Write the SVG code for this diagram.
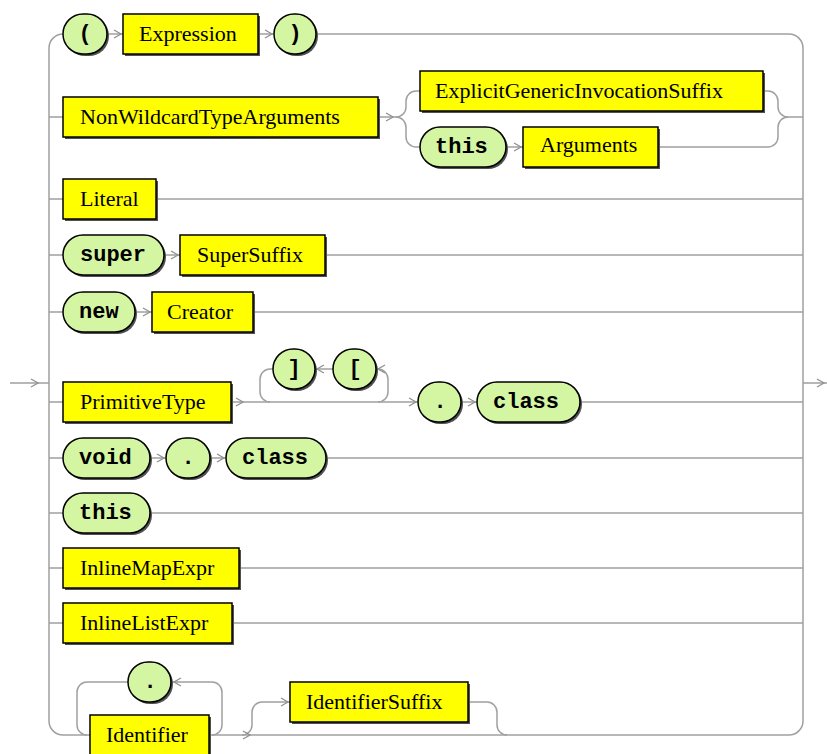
<svg xmlns="http://www.w3.org/2000/svg" xmlns:xlink="http://www.w3.org/1999/xlink" width="827" height="754" viewBox="0 0 827 754">
<style>
.c{fill:none;stroke:#a0a0a0;stroke-width:1.5}
.ar{fill:none;stroke:#909090;stroke-width:1.3}
.sh{fill:#505050}
.nt rect.b{fill:#ffff00;stroke:#000;stroke-width:1.5}
.t rect.b{fill:#d4f5a2;stroke:#000;stroke-width:1.5}
.nt text{font-family:"Liberation Serif",serif;font-size:22px;fill:#000}
.t text{font-family:"Liberation Mono",monospace;font-weight:bold;font-size:22px;fill:#000}
</style>
<defs>
<path id="a" class="ar" d="M-7,-4 L0,0 L-7,4"/>
<path id="al" class="ar" d="M7,-4 L0,0 L7,4"/>
</defs>
<rect width="827" height="754" fill="#fff"/>
<g id="connectors">
<path class="c" d="M10 383 H49 M803 383 H827"/>
<path class="c" d="M63 34 A14 14 0 0 0 49 48 V721 A14 14 0 0 0 63 735"/>
<path class="c" d="M789 34 A14 14 0 0 1 803 48 V721 A14 14 0 0 1 789 735"/>
<path class="c" d="M63 34 H789"/>
<path class="c" d="M49 117 H396 M788 117 H803"/>
<path class="c" d="M396 117 A10 10 0 0 0 406 107 V101 A10 10 0 0 1 416 91 H768 A10 10 0 0 1 778 101 V107 A10 10 0 0 0 788 117"/>
<path class="c" d="M396 117 A10 10 0 0 1 406 127 V137 A10 10 0 0 0 416 147 H768 A10 10 0 0 0 778 137 V127 A10 10 0 0 1 788 117"/>
<path class="c" d="M49 199 H803 M49 255 H803 M49 312 H803 M49 402 H803 M49 458 H803 M49 513 H803 M49 568 H803 M49 623 H803"/>
<path class="c" d="M273 369 H270 A10 10 0 0 0 260 379 V392 A10 10 0 0 0 270 402"/>
<path class="c" d="M376 369 H378 A10 10 0 0 1 388 379 V392 A10 10 0 0 1 378 402"/>
<path class="c" d="M315 369 H333"/>
<path class="c" d="M63 735 H789"/>
<path class="c" d="M128 682 H87 A10 10 0 0 0 77 692 V725 A10 10 0 0 0 87 735"/>
<path class="c" d="M172 682 H212 A10 10 0 0 1 222 692 V725 A10 10 0 0 1 212 735"/>
<path class="c" d="M242 735 A10 10 0 0 0 252 725 V712 A10 10 0 0 1 262 702 H290"/>
<path class="c" d="M468 702 H487 A10 10 0 0 1 497 712 V725 A10 10 0 0 0 507 735"/>
<use xlink:href="#a" x="38" y="383"/>
<use xlink:href="#a" x="824" y="383"/>
<use xlink:href="#a" x="121" y="34"/>
<use xlink:href="#a" x="272" y="34"/>
<use xlink:href="#a" x="393" y="117"/>
<use xlink:href="#a" x="521" y="147"/>
<use xlink:href="#a" x="178" y="255"/>
<use xlink:href="#a" x="150" y="312"/>
<use xlink:href="#a" x="243" y="402"/>
<use xlink:href="#a" x="416" y="402"/>
<use xlink:href="#a" x="475" y="402"/>
<use xlink:href="#al" x="317" y="369"/>
<use xlink:href="#al" x="378" y="369"/>
<use xlink:href="#a" x="164" y="458"/>
<use xlink:href="#a" x="224" y="458"/>
<use xlink:href="#al" x="174" y="682"/>
<use xlink:href="#a" x="250" y="735"/>
<use xlink:href="#a" x="288" y="702"/>
</g>
<g id="n-lparen" class="t"><rect class="sh" x="65" y="16" width="44" height="40" rx="20"/><rect class="b" x="63" y="14" width="44" height="40" rx="20"/><text x="85" y="40" text-anchor="middle">(</text></g>
<g id="n-expression" class="nt"><rect class="sh" x="125" y="16" width="135" height="40"/><rect class="b" x="123" y="14" width="135" height="40"/><text x="139" y="41">Expression</text></g>
<g id="n-rparen" class="t"><rect class="sh" x="276" y="16" width="42" height="40" rx="20"/><rect class="b" x="274" y="14" width="42" height="40" rx="20"/><text x="295" y="40" text-anchor="middle">)</text></g>
<g id="n-nonwildcard" class="nt"><rect class="sh" x="65" y="99" width="315" height="40"/><rect class="b" x="63" y="97" width="315" height="40"/><text x="80" y="124">NonWildcardTypeArguments</text></g>
<g id="n-explicit" class="nt"><rect class="sh" x="422" y="73" width="343" height="40"/><rect class="b" x="420" y="71" width="343" height="40"/><text x="435" y="98">ExplicitGenericInvocationSuffix</text></g>
<g id="n-this1" class="t"><rect class="sh" x="422" y="129" width="86" height="40" rx="20"/><rect class="b" x="420" y="127" width="86" height="40" rx="20"/><text x="435" y="153">this</text></g>
<g id="n-arguments" class="nt"><rect class="sh" x="525" y="129" width="135" height="40"/><rect class="b" x="523" y="127" width="135" height="40"/><text x="540" y="152">Arguments</text></g>
<g id="n-literal" class="nt"><rect class="sh" x="65" y="181" width="93" height="40"/><rect class="b" x="63" y="179" width="93" height="40"/><text x="80" y="206">Literal</text></g>
<g id="n-super" class="t"><rect class="sh" x="65" y="237" width="101" height="40" rx="20"/><rect class="b" x="63" y="235" width="101" height="40" rx="20"/><text x="80" y="261">super</text></g>
<g id="n-supersuffix" class="nt"><rect class="sh" x="182" y="237" width="145" height="40"/><rect class="b" x="180" y="235" width="145" height="40"/><text x="197" y="262">SuperSuffix</text></g>
<g id="n-new" class="t"><rect class="sh" x="65" y="294" width="72" height="40" rx="20"/><rect class="b" x="63" y="292" width="72" height="40" rx="20"/><text x="79" y="318">new</text></g>
<g id="n-creator" class="nt"><rect class="sh" x="154" y="294" width="101" height="40"/><rect class="b" x="152" y="292" width="101" height="40"/><text x="167" y="319">Creator</text></g>
<g id="n-primitivetype" class="nt"><rect class="sh" x="65" y="384" width="168" height="40"/><rect class="b" x="63" y="382" width="168" height="40"/><text x="80" y="409">PrimitiveType</text></g>
<g id="n-rbracket" class="t"><rect class="sh" x="275" y="351" width="42" height="40" rx="20"/><rect class="b" x="273" y="349" width="42" height="40" rx="20"/><text x="294" y="375" text-anchor="middle">]</text></g>
<g id="n-lbracket" class="t"><rect class="sh" x="335" y="351" width="43" height="40" rx="20"/><rect class="b" x="333" y="349" width="43" height="40" rx="20"/><text x="355" y="375" text-anchor="middle">[</text></g>
<g id="n-dot1" class="t"><rect class="sh" x="420" y="384" width="43" height="40" rx="20"/><rect class="b" x="418" y="382" width="43" height="40" rx="20"/><text x="440" y="408" text-anchor="middle">.</text></g>
<g id="n-class1" class="t"><rect class="sh" x="479" y="384" width="103" height="40" rx="20"/><rect class="b" x="477" y="382" width="103" height="40" rx="20"/><text x="493" y="408">class</text></g>
<g id="n-void" class="t"><rect class="sh" x="65" y="440" width="87" height="40" rx="20"/><rect class="b" x="63" y="438" width="87" height="40" rx="20"/><text x="79" y="464">void</text></g>
<g id="n-dot2" class="t"><rect class="sh" x="168" y="440" width="44" height="40" rx="20"/><rect class="b" x="166" y="438" width="44" height="40" rx="20"/><text x="188" y="464" text-anchor="middle">.</text></g>
<g id="n-class2" class="t"><rect class="sh" x="228" y="440" width="100" height="40" rx="20"/><rect class="b" x="226" y="438" width="100" height="40" rx="20"/><text x="242" y="464">class</text></g>
<g id="n-this2" class="t"><rect class="sh" x="65" y="495" width="87" height="40" rx="20"/><rect class="b" x="63" y="493" width="87" height="40" rx="20"/><text x="79" y="519">this</text></g>
<g id="n-inlinemapexpr" class="nt"><rect class="sh" x="65" y="550" width="176" height="40"/><rect class="b" x="63" y="548" width="176" height="40"/><text x="80" y="575">InlineMapExpr</text></g>
<g id="n-inlinelistexpr" class="nt"><rect class="sh" x="65" y="605" width="169" height="40"/><rect class="b" x="63" y="603" width="169" height="40"/><text x="80" y="630">InlineListExpr</text></g>
<g id="n-dot3" class="t"><rect class="sh" x="130" y="664" width="43" height="40" rx="20"/><rect class="b" x="128" y="662" width="43" height="40" rx="20"/><text x="150" y="688" text-anchor="middle">.</text></g>
<g id="n-identifier" class="nt"><rect class="sh" x="92" y="717" width="119" height="40"/><rect class="b" x="90" y="715" width="119" height="40"/><text x="106" y="742">Identifier</text></g>
<g id="n-identifiersuffix" class="nt"><rect class="sh" x="292" y="684" width="178" height="40"/><rect class="b" x="290" y="682" width="178" height="40"/><text x="306" y="709">IdentifierSuffix</text></g>
</svg>
